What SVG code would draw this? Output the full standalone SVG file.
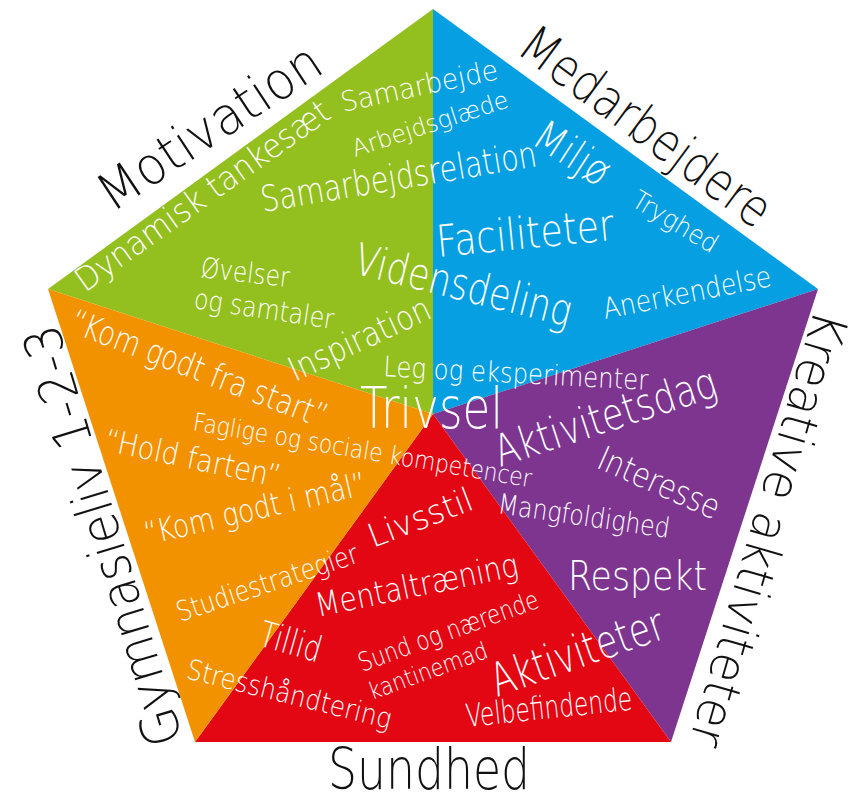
<svg xmlns="http://www.w3.org/2000/svg" width="856" height="792" viewBox="0 0 856 792">
<style>
text{font-family:"DejaVu Sans",sans-serif;font-weight:200;}
.w{fill:#ffffff;}
.k{fill:#111111;}
</style>
<rect width="856" height="792" fill="#ffffff"/>
<g id="segments">
<polygon id="seg-motivation" points="433,9 433,414 48,289" fill="#93C01F"/>
<polygon id="seg-medarbejdere" points="433,9 818,289 433,414" fill="#069FE2"/>
<polygon id="seg-kreative" points="818,289 671,742 433,414" fill="#7E358F"/>
<polygon id="seg-sundhed" points="671,742 195,742 433,414" fill="#E30613"/>
<polygon id="seg-gymnasieliv" points="195,742 48,289 433,414" fill="#F39200"/>
</g>
<g id="motivation">
<text class="w" font-size="28" textLength="160" lengthAdjust="spacingAndGlyphs" transform="translate(343,112) rotate(-12)">Samarbejde</text>
<text class="w" font-size="33" textLength="304" lengthAdjust="spacingAndGlyphs" transform="translate(85,293) rotate(-35.4)">Dynamisk tankesæt</text>
<text class="w" font-size="24" textLength="163" lengthAdjust="spacingAndGlyphs" transform="translate(355,157) rotate(-18)">Arbejdsglæde</text>
<text class="w" font-size="36" textLength="279" lengthAdjust="spacingAndGlyphs" transform="translate(263,212) rotate(-9.5)">Samarbejdsrelation</text>
<text class="w" font-size="28" textLength="89" lengthAdjust="spacingAndGlyphs" transform="translate(200,277) rotate(6.5)">Øvelser</text>
<text class="w" font-size="28" textLength="141" lengthAdjust="spacingAndGlyphs" transform="translate(193,308) rotate(8.5)">og samtaler</text>
<text class="w" font-size="34" textLength="153" lengthAdjust="spacingAndGlyphs" transform="translate(295,382) rotate(-25)">Inspiration</text>
<text class="k" font-size="52" textLength="257" lengthAdjust="spacingAndGlyphs" transform="translate(112,213) rotate(-33.5)">Motivation</text>
</g>
<g id="medarbejdere">
<text class="w" font-size="42" textLength="82" lengthAdjust="spacingAndGlyphs" transform="translate(530,143) rotate(33)">Miljø</text>
<text class="w" font-size="44" textLength="178" lengthAdjust="spacingAndGlyphs" transform="translate(438,257) rotate(-5.5)">Faciliteter</text>
<text class="w" font-size="26" textLength="95" lengthAdjust="spacingAndGlyphs" transform="translate(630,205) rotate(31)">Tryghed</text>
<text class="w" font-size="29" textLength="171" lengthAdjust="spacingAndGlyphs" transform="translate(605,319) rotate(-11.2)">Anerkendelse</text>
<text class="k" font-size="52" textLength="299" lengthAdjust="spacingAndGlyphs" transform="translate(515,52) rotate(36.5)">Medarbejdere</text>
</g>
<g id="kreative">
<text class="w" font-size="44" textLength="231" lengthAdjust="spacingAndGlyphs" transform="translate(500,467) rotate(-18)">Aktivitetsdag</text>
<text class="w" font-size="34" textLength="130" lengthAdjust="spacingAndGlyphs" transform="translate(595,467) rotate(24)">Interesse</text>
<text class="w" font-size="28" textLength="173" lengthAdjust="spacingAndGlyphs" transform="translate(497,513) rotate(8.3)">Mangfoldighed</text>
<text class="w" font-size="40" textLength="139" lengthAdjust="spacingAndGlyphs" x="568" y="590">Respekt</text>
<text class="k" font-size="50" textLength="451" lengthAdjust="spacingAndGlyphs" transform="translate(815,308) rotate(106.2)">Kreative aktiviteter</text>
</g>
<g id="sundhed">
<text class="w" font-size="46" textLength="181" lengthAdjust="spacingAndGlyphs" transform="translate(497,697) rotate(-19.3)">Aktiviteter</text>
<text class="w" font-size="32" textLength="167" lengthAdjust="spacingAndGlyphs" transform="translate(467,727) rotate(-6)">Velbefindende</text>
<text class="w" font-size="33" textLength="110" lengthAdjust="spacingAndGlyphs" transform="translate(373,548) rotate(-21)">Livsstil</text>
<text class="w" font-size="33" textLength="206" lengthAdjust="spacingAndGlyphs" transform="translate(318,617) rotate(-11.6)">Mentaltræning</text>
<text class="w" font-size="26" textLength="190" lengthAdjust="spacingAndGlyphs" transform="translate(362,672) rotate(-20)">Sund og nærende</text>
<text class="w" font-size="24" textLength="125" lengthAdjust="spacingAndGlyphs" transform="translate(372,700) rotate(-20)">kantinemad</text>
<text class="k" font-size="57" textLength="202" lengthAdjust="spacingAndGlyphs" x="328" y="789">Sundhed</text>
</g>
<g id="gymnasieliv">
<text class="w" font-size="34" textLength="272" lengthAdjust="spacingAndGlyphs" transform="translate(68,331) rotate(21)">“Kom godt fra start”</text>
<text class="w" font-size="25" textLength="343" lengthAdjust="spacingAndGlyphs" transform="translate(192,430) rotate(9.6)">Faglige og sociale kompetencer</text>
<text class="w" font-size="31" textLength="179" lengthAdjust="spacingAndGlyphs" transform="translate(103,450) rotate(12)">“Hold farten”</text>
<text class="w" font-size="32" textLength="227" lengthAdjust="spacingAndGlyphs" transform="translate(147,545) rotate(-13)">“Kom godt i mål”</text>
<text class="w" font-size="28" textLength="190" lengthAdjust="spacingAndGlyphs" transform="translate(180,622) rotate(-18.4)">Studiestrategier</text>
<text class="w" font-size="36" textLength="63" lengthAdjust="spacingAndGlyphs" transform="translate(257,645) rotate(16)">Tillid</text>
<text class="w" font-size="28" textLength="210" lengthAdjust="spacingAndGlyphs" transform="translate(185,678) rotate(14)">Stresshåndtering</text>
<text class="k" font-size="52" textLength="437" lengthAdjust="spacingAndGlyphs" transform="translate(183,740) rotate(-106.8)">Gymnasieliv 1-2-3</text>
</g>
<g id="trivsel">
<text class="w" font-size="44" textLength="222" lengthAdjust="spacingAndGlyphs" transform="translate(352,273) rotate(14)">Vidensdeling</text>
<text class="w" font-size="28" textLength="265" lengthAdjust="spacingAndGlyphs" transform="translate(383,376) rotate(3)">Leg og eksperimenter</text>
<text class="w" font-size="57" textLength="143" lengthAdjust="spacingAndGlyphs" x="360" y="428">Trivsel</text>
</g>
<g id="connectors"/>
</svg>
